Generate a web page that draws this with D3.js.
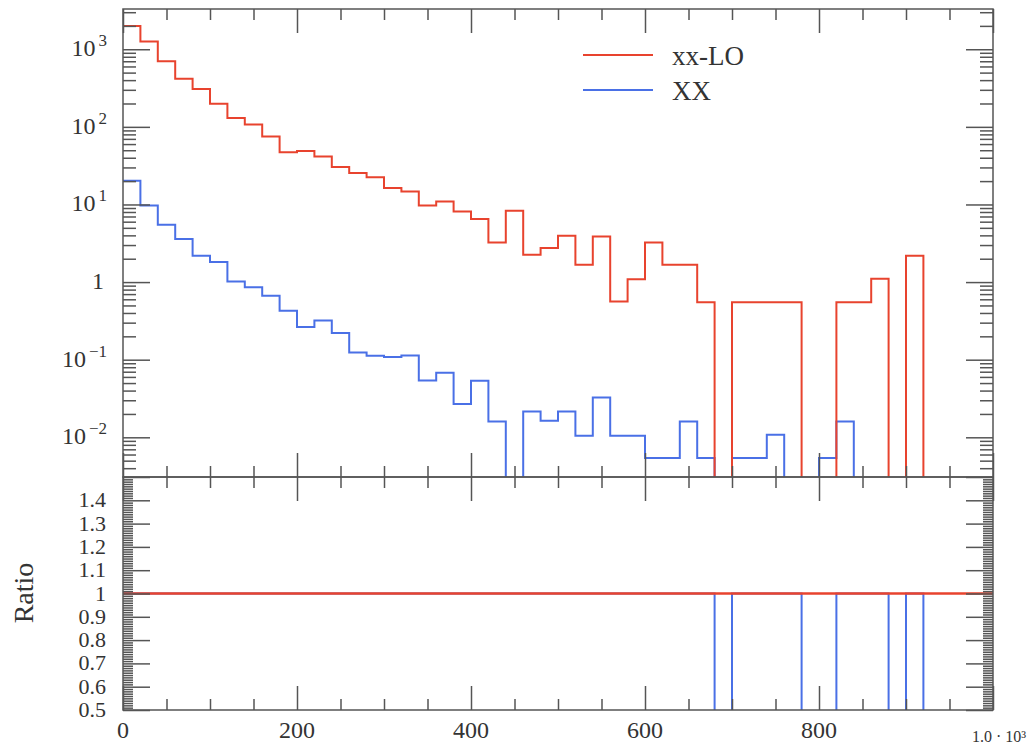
<!DOCTYPE html>
<html>
<head>
<meta charset="utf-8">
<script src="https://cdn.jsdelivr.net/npm/d3@7"></script>
<style>
  html, body { margin: 0; padding: 0; background: #fff; }
  svg { display: block; }
  text { font-family: "Liberation Serif", "DejaVu Serif", serif; fill: #333; }
</style>
</head>
<body>
<svg id="chart" width="1029" height="745"></svg>
<script>
// ---- data ----
const binLow = [0,20,40,60,80,100,120,140,160,180,200,220,240,260,280,300,320,340,360,380,
                400,420,440,460,480,500,520,540,560,580,600,620,640,660,680,700,720,740,760,780,
                800,820,840,860,880,900,920,940,960,980];
const binWidth = 20;
const seriesNames = ["xx-LO", "XX"];
const redValues = [2000,1260,700,417,307,199,130,107,75,47,49,41.5,30.3,25.4,22.5,16.3,14.7,9.7,10.9,8.1,
                   6.5,3.24,8.3,2.25,2.74,3.95,1.67,3.87,0.56,1.09,3.24,1.67,1.67,0.55,0,0.55,0.55,0.55,0.55,0,
                   0,0.55,0.55,1.1,0,2.18,0,0,0,0];
const blueValues = [20.2,9.7,5.47,3.58,2.18,1.81,1.02,0.86,0.666,0.427,0.263,0.32,0.22,0.124,0.112,0.108,0.113,0.054,0.068,0.0268,
                    0.0535,0.016,0,0.0215,0.0163,0.0215,0.0105,0.0326,0.0105,0.0105,0.0054,0.0054,0.016,0.0054,0,0.0054,0.0054,0.0108,0,0,
                    0.0054,0.016,0,0,0,0,0,0,0,0];
const redRatio = [1,1,1,1,1,1,1,1,1,1,1,1,1,1,1,1,1,1,1,1,1,1,1,1,1,1,1,1,1,1,1,1,1,1,1,1,1,1,1,1,1,1,1,1,1,1,1,1,1,1];
const blueRatio = [1,1,1,1,1,1,1,1,1,1,1,1,1,1,1,1,1,1,1,1,1,1,1,1,1,1,1,1,1,1,1,1,1,1,0,1,1,1,1,0,
                   0,1,1,1,0,1,0,0,0,0];
const xTickValues = [0,200,400,600,800];
const xTickLabels = ["0","200","400","600","800"];
const yMainTicks = [1e-2,1e-1,1,10,100,1000];
const yMainLabels = [["10","\u22122"],["10","\u22121"],["1",""],["10","1"],["10","2"],["10","3"]];
const yRatioTicks = [0.5,0.6,0.7,0.8,0.9,1,1.1,1.2,1.3,1.4];
const yRatioLabels = ["0.5","0.6","0.7","0.8","0.9","1","1.1","1.2","1.3","1.4"];

const colors = { red: "#e8432e", blue: "#4a70e6", axis: "#555" };

// ---- layout ----
const L = 123, R = 993, T = 9, MID = 477, B = 710;
const svg = d3.select("#chart");

const x = d3.scaleLinear().domain([0, 1000]).range([L, R]);
const yMain = d3.scaleLog().domain([0.00308, 3300]).range([MID, T]);
const yRatio = d3.scaleLinear().domain([0.5, 1.5]).range([B, MID]);

const defs = svg.append("defs");
defs.append("clipPath").attr("id", "clipMain").append("rect")
  .attr("x", L).attr("y", T).attr("width", R - L).attr("height", MID - T);
defs.append("clipPath").attr("id", "clipRatio").append("rect")
  .attr("x", L).attr("y", MID).attr("width", R - L).attr("height", B - MID);

function stepPoints(vals) {
  const pts = binLow.map((b, i) => [b, vals[i]]);
  pts.push([binLow[binLow.length - 1] + binWidth, vals[vals.length - 1]]);
  return pts;
}
function stepLine(yScale, floorY) {
  return d3.line()
    .x(d => x(d[0]))
    .y(d => d[1] > 0 ? yScale(d[1]) : floorY)
    .curve(d3.curveStepAfter);
}

// ---- main panel histograms ----
const gMain = svg.append("g").attr("clip-path", "url(#clipMain)");
gMain.append("path").datum(stepPoints(blueValues))
  .attr("d", stepLine(yMain, MID + 30))
  .attr("fill", "none").attr("stroke", colors.blue).attr("stroke-width", 2);
gMain.append("path").datum(stepPoints(redValues))
  .attr("d", stepLine(yMain, MID + 30))
  .attr("fill", "none").attr("stroke", colors.red).attr("stroke-width", 2);

// ---- ratio panel ----
const gRatio = svg.append("g").attr("clip-path", "url(#clipRatio)");
gRatio.append("path").datum(stepPoints(blueRatio))
  .attr("d", stepLine(yRatio, B + 30))
  .attr("fill", "none").attr("stroke", colors.blue).attr("stroke-width", 2);
gRatio.append("path").datum(stepPoints(redRatio))
  .attr("d", stepLine(yRatio, B + 30))
  .attr("fill", "none").attr("stroke", colors.red).attr("stroke-width", 2.6);

// ---- axes (inward ticks) ----
function styleAxis(g) {
  g.select(".domain").remove();
  g.selectAll("line").attr("stroke", colors.axis).attr("stroke-width", 1.5);
  g.selectAll("text").remove();
}
const xMajor = d3.range(0, 1001, 200);
const xMinor = d3.range(0, 1001, 50).filter(v => v % 200 !== 0);

function xTicks(yPos, dir) { // dir: +1 ticks go down, -1 ticks go up
  const axisFn = dir > 0 ? d3.axisTop : d3.axisBottom;
  svg.append("g").attr("transform", `translate(0,${yPos})`)
    .call(axisFn(x).tickValues(xMajor).tickSize(-24).tickSizeOuter(0)).call(styleAxis);
  svg.append("g").attr("transform", `translate(0,${yPos})`)
    .call(axisFn(x).tickValues(xMinor).tickSize(-11).tickSizeOuter(0)).call(styleAxis);
}
xTicks(T, 1);
xTicks(MID, -1);
xTicks(MID, 1);
xTicks(B, -1);

// log y minor ticks
const yMinorLog = [];
[-3,-2,-1,0,1,2,3].forEach(e => { for (let k = 2; k <= 9; k++) { const v = k * Math.pow(10, e); if (v > 0.00308 && v < 3300) yMinorLog.push(v); } });
function yTicks(scale, major, minor, majLen, minLen) {
  [[d3.axisLeft, L], [d3.axisRight, R]].forEach(([fn, xp]) => {
    svg.append("g").attr("transform", `translate(${xp},0)`)
      .call(fn(scale).tickValues(major).tickSize(-majLen).tickSizeOuter(0)).call(styleAxis);
    svg.append("g").attr("transform", `translate(${xp},0)`)
      .call(fn(scale).tickValues(minor).tickSize(-minLen).tickSizeOuter(0)).call(styleAxis);
  });
}
yTicks(yMain, yMainTicks, yMinorLog, 27, 13);
const ratioMajor = d3.range(5, 16).map(v => v / 10);
const ratioMinor = d3.range(50, 151).filter(v => v % 10 !== 0).map(v => v / 100);
yTicks(yRatio, ratioMajor, ratioMinor, 27, 10);

// frames
svg.append("rect").attr("x", L).attr("y", T).attr("width", R - L).attr("height", MID - T)
  .attr("fill", "none").attr("stroke", colors.axis).attr("stroke-width", 1.5);
svg.append("rect").attr("x", L).attr("y", MID).attr("width", R - L).attr("height", B - MID)
  .attr("fill", "none").attr("stroke", colors.axis).attr("stroke-width", 1.5);

// ---- tick labels ----
const fs = 24;
yMainTicks.forEach((v, i) => {
  const [base, exp] = yMainLabels[i];
  const t = svg.append("text").attr("y", yMain(v) + 7).attr("text-anchor", "end")
    .attr("font-size", fs);
  if (exp) {
    t.attr("x", 107);
    t.append("tspan").text(base);
    t.append("tspan").attr("dx", 3).attr("dy", -10).attr("font-size", 17).text(exp);
  } else {
    t.attr("x", 104).text(base);
  }
});
yRatioTicks.forEach((v, i) => {
  svg.append("text").attr("x", 106).attr("y", yRatio(v) + 7).attr("text-anchor", "end")
    .attr("font-size", 22).text(yRatioLabels[i]);
});
xTickValues.forEach((v, i) => {
  svg.append("text").attr("x", x(v)).attr("y", 738).attr("text-anchor", "middle")
    .attr("font-size", fs).text(xTickLabels[i]);
});
svg.append("text").attr("x", 1026).attr("y", 742).attr("text-anchor", "end")
  .attr("font-size", 16).text("1.0 \u00b7 10\u00b3");

// axis title
svg.append("text").attr("transform", "translate(33,593) rotate(-90)")
  .attr("text-anchor", "middle").attr("font-size", 28).text("Ratio");

// ---- legend ----
const legendItems = [{ name: seriesNames[0], color: colors.red, y: 55 }, { name: seriesNames[1], color: colors.blue, y: 90 }];
legendItems.forEach(d => {
  svg.append("line").attr("x1", 583).attr("x2", 653).attr("y1", d.y).attr("y2", d.y)
    .attr("stroke", d.color).attr("stroke-width", 2);
  svg.append("text").attr("x", 672).attr("y", d.y + 10).attr("font-size", 27).text(d.name);
});
</script>
</body>
</html>
